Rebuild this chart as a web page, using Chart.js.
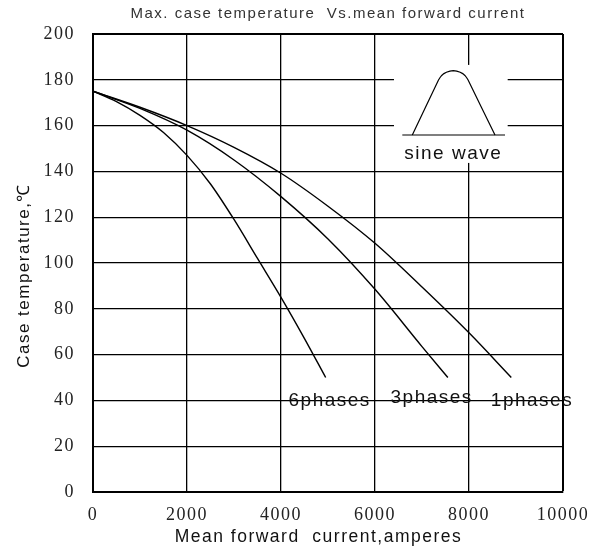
<!DOCTYPE html>
<html><head><meta charset="utf-8">
<script src="https://cdn.jsdelivr.net/npm/chart.js@4"></script>
<style>html,body{margin:0;padding:0;background:#fff}</style>
</head><body>
<canvas id="c" width="606" height="555" style="display:block;width:606px;height:555px"></canvas>
<script>
// ---- data ----
const xTickValues = [0, 2000, 4000, 6000, 8000, 10000];
const yTickValues = [0, 20, 40, 60, 80, 100, 120, 140, 160, 180, 200];

const current6 = [0, 500, 1000, 1500, 2000, 2500, 3000, 3500, 4000, 4500, 4950];
const temp6    = [175, 170.5, 164.5, 157, 147, 134.5, 119, 102, 85, 67, 50];

const current3 = [0, 1000, 2000, 3000, 4000, 5000, 6000, 7000, 7550];
const temp3    = [175, 167.5, 158, 145, 129, 110.5, 88.5, 63.5, 50];

const current1 = [0, 1000, 2000, 3000, 4000, 5000, 6000, 7000, 8000, 8900];
const temp1    = [175, 168, 160, 150.5, 139.2, 124.8, 108.6, 89.5, 69.5, 50];

const seriesNames = ['6phases', '3phases', '1phases'];
const nameX = [5036, 7206, 9340];
const nameY = [40, 41, 40];

// inset "sine wave" sketch, in data units
const sineX = [6794, 7072, 7351, 7381, 7419, 7466, 7519, 7594, 7666, 7738, 7813, 7866, 7913, 7951, 7981, 8266, 8553];
const sineY = [155.9, 167.9, 179.9, 180.9, 181.9, 182.7, 183.3, 183.8, 184.0, 183.8, 183.3, 182.7, 181.9, 180.9, 179.9, 167.9, 155.9];
const sineBaseX = [6581, 8766];
const sineBaseY = [155.9, 155.9];
const insetX = [6404, 8823];
const insetY = [143.7, 186.5];
const insetLabel = 'sine wave';
const insetLabelAt = [7666, 147.6];

const titleText = 'Max. case temperature  Vs.mean forward current';
const xTitle = 'Mean forward  current,amperes\u00a0\u00a0\u00a0';
const yTitle = 'Case temperature,\u2103\u00a0\u00a0\u00a0\u00a0';

// ---- helpers ----
const pts = (xs, ys) => xs.map((x, i) => ({x, y: ys[i]}));
const SANS = "'Liberation Sans', Arial, sans-serif";
const SERIF = "'Liberation Serif', 'Times New Roman', serif";
const SPACING = '1.5px';

const spacingPlugin = {
  id: 'spacing',
  beforeUpdate(chart) { chart.ctx.letterSpacing = SPACING; },
  beforeLayout(chart) { chart.ctx.letterSpacing = SPACING; },
  beforeDraw(chart) { chart.ctx.letterSpacing = SPACING; }
};

const insetPlugin = {
  id: 'inset',
  beforeDatasetsDraw(chart) {
    const {ctx, scales: {x, y}} = chart;
    const x0 = x.getPixelForValue(insetX[0]), x1 = x.getPixelForValue(insetX[1]);
    const y0 = y.getPixelForValue(insetY[1]), y1 = y.getPixelForValue(insetY[0]);
    ctx.save();
    ctx.fillStyle = '#fff';
    ctx.fillRect(x0, y0, x1 - x0, y1 - y0);
    ctx.restore();
  },
  afterDatasetsDraw(chart) {
    const {ctx, scales: {x, y}} = chart;
    ctx.save();
    ctx.letterSpacing = SPACING;
    ctx.fillStyle = '#111';
    ctx.textAlign = 'center';
    ctx.textBaseline = 'middle';
    ctx.font = "19px " + SANS;
    seriesNames.forEach((n, i) => {
      ctx.fillText(n, x.getPixelForValue(nameX[i]), y.getPixelForValue(nameY[i]));
    });
    ctx.fillText(insetLabel, x.getPixelForValue(insetLabelAt[0]), y.getPixelForValue(insetLabelAt[1]));
    ctx.restore();
  }
};

const lineStyle = {
  borderColor: '#000', borderWidth: 1.4, pointRadius: 0, fill: false,
  cubicInterpolationMode: 'monotone'
};
const sketchStyle = {
  borderColor: '#000', borderWidth: 1.2, pointRadius: 0, fill: false, tension: 0
};

new Chart(document.getElementById('c'), {
  type: 'line',
  data: {
    datasets: [
      Object.assign({label: seriesNames[0], data: pts(current6, temp6)}, lineStyle),
      Object.assign({label: seriesNames[1], data: pts(current3, temp3)}, lineStyle),
      Object.assign({label: seriesNames[2], data: pts(current1, temp1)}, lineStyle),
      Object.assign({label: 'sine', data: pts(sineX, sineY)}, sketchStyle),
      Object.assign({label: 'base', data: pts(sineBaseX, sineBaseY)}, sketchStyle)
    ]
  },
  options: {
    responsive: false,
    animation: false,
    devicePixelRatio: 1,
    layout: {padding: {left: 0, right: 43, top: 0, bottom: 0}},
    plugins: {
      legend: {display: false},
      tooltip: {enabled: false},
      title: {
        display: true, text: titleText, color: '#333', fullSize: false,
        font: {family: SANS, size: 15, weight: 'normal', lineHeight: 1.2},
        padding: {top: 5, bottom: 11}
      }
    },
    scales: {
      x: {
        type: 'linear', min: 0, max: 10000,
        afterBuildTicks(s) { s.ticks = xTickValues.map(v => ({value: v})); },
        afterFit(s) { s.height = 63; },
        grid: {
          color: '#000',
          lineWidth: c => (c.tick && c.tick.value === 10000) ? 2 : 1.3,
          drawTicks: false
        },
        border: {display: true, color: '#000', width: 2},
        ticks: {
          color: '#222', padding: 12, maxRotation: 0,
          font: {family: SERIF, size: 18},
          callback: v => String(v)
        },
        title: {
          display: true, text: xTitle, color: '#111',
          font: {family: SANS, size: 17.5}, padding: {top: 0, bottom: 7}
        }
      },
      y: {
        type: 'linear', min: 0, max: 200,
        afterBuildTicks(s) { s.ticks = yTickValues.map(v => ({value: v})); },
        afterFit(s) { s.width = 93; },
        grid: {
          color: '#000',
          lineWidth: c => (c.tick && c.tick.value === 200) ? 2 : 1.3,
          drawTicks: false
        },
        border: {display: true, color: '#000', width: 2},
        ticks: {
          color: '#222', padding: 18,
          font: {family: SERIF, size: 18},
          callback: v => String(v)
        },
        title: {
          display: true, text: yTitle, color: '#111',
          font: {family: SANS, size: 17}, padding: {top: 14, bottom: 0}
        }
      }
    }
  },
  plugins: [spacingPlugin, insetPlugin]
});
</script>
</body></html>
